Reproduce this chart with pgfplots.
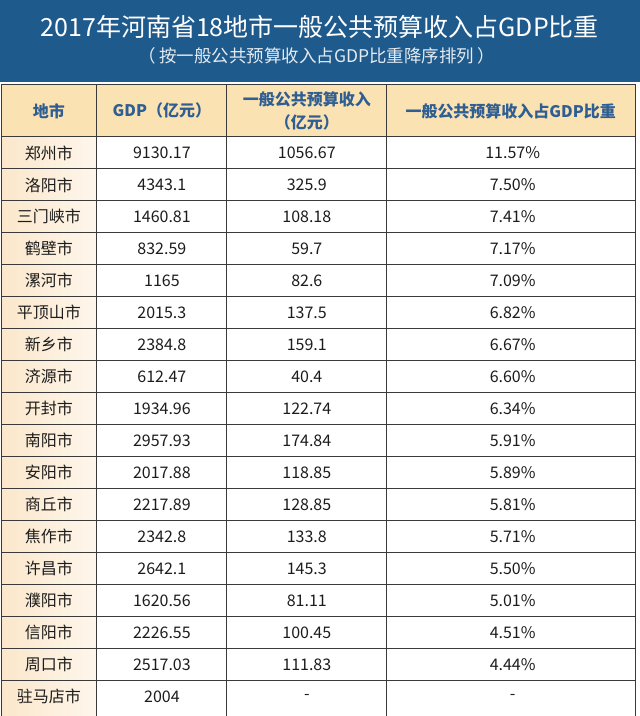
\documentclass[border=0pt]{standalone}
\usepackage{fontspec}
\setmainfont{Noto Sans CJK SC}
\usepackage{pgfplots}
\usepackage{pgfplotstable}
\pgfplotsset{compat=1.18}

\definecolor{band}{HTML}{1F5A8D}
\definecolor{head}{HTML}{FBE2B3}
\definecolor{colL}{HTML}{FBE7CB}
\definecolor{colR}{HTML}{FEF6EC}
\definecolor{headtxt}{HTML}{2E5E92}
\definecolor{ink}{HTML}{1C1C1C}
\definecolor{rule}{HTML}{3A3A3A}

% one row per city, row index gives the vertical slot
\pgfplotstableread{
row city gdp rev share
0 郑州市 9130.17 1056.67 11.57\%
1 洛阳市 4343.1 325.9 7.50\%
2 三门峡市 1460.81 108.18 7.41\%
3 鹤壁市 832.59 59.7 7.17\%
4 漯河市 1165 82.6 7.09\%
5 平顶山市 2015.3 137.5 6.82\%
6 新乡市 2384.8 159.1 6.67\%
7 济源市 612.47 40.4 6.60\%
8 开封市 1934.96 122.74 6.34\%
9 南阳市 2957.93 174.84 5.91\%
10 安阳市 2017.88 118.85 5.89\%
11 商丘市 2217.89 128.85 5.81\%
12 焦作市 2342.8 133.8 5.71\%
13 许昌市 2642.1 145.3 5.50\%
14 濮阳市 1620.56 81.11 5.01\%
15 信阳市 2226.55 100.45 4.51\%
16 周口市 2517.03 111.83 4.44\%
17 驻马店市 2004 - -
}\cities

\pgfplotsset{
  cell/.style={draw=none, mark=none, point meta=explicit symbolic, nodes near coords,
    every node near coord/.append style={anchor=center, inner sep=0pt,
      font=\fontsize{16}{18}\selectfont, text=ink}},
  headcell/.style={cell, every node near coord/.append style={
      font=\fontsize{16}{18}\selectfont\bfseries, text=headtxt}},
}

\begin{document}
\begin{tikzpicture}
\begin{axis}[
    width=640pt, height=716pt, scale only axis,
    xmin=0, xmax=640, ymin=0, ymax=716,
    y dir=reverse,
    hide axis, clip=false,
]
% backgrounds
\addplot[draw=none, fill=white] coordinates {(0,0) (640,0) (640,716) (0,716)};
\addplot[draw=none, fill=band] coordinates {(0,0) (640,0) (640,82) (0,82)};
\addplot[draw=none, fill=head] coordinates {(1,85) (636,85) (636,137) (1,137)};
\addplot[draw=none, left color=colL, right color=colR] coordinates {(1,137) (97,137) (97,716) (1,716)};

% table rules
\addplot[rule, line width=1pt, mark=none, unbounded coords=jump] coordinates {
    (1.5,85) (1.5,716) (nan,nan)
    (97,85) (97,716) (nan,nan)
    (227,85) (227,716) (nan,nan)
    (387,85) (387,716) (nan,nan)
    (636,85) (636,716)
};
\addplot[rule, line width=1pt, mark=none, unbounded coords=jump] coordinates {
    (1,85) (636,85) (nan,nan)
    (1,137) (636,137) (nan,nan)
    (1,169) (636,169) (nan,nan)
    (1,201) (636,201) (nan,nan)
    (1,233) (636,233) (nan,nan)
    (1,265) (636,265) (nan,nan)
    (1,297) (636,297) (nan,nan)
    (1,329) (636,329) (nan,nan)
    (1,361) (636,361) (nan,nan)
    (1,393) (636,393) (nan,nan)
    (1,425) (636,425) (nan,nan)
    (1,457) (636,457) (nan,nan)
    (1,489) (636,489) (nan,nan)
    (1,521) (636,521) (nan,nan)
    (1,553) (636,553) (nan,nan)
    (1,585) (636,585) (nan,nan)
    (1,617) (636,617) (nan,nan)
    (1,649) (636,649) (nan,nan)
    (1,681) (636,681)
};

% title
\addplot[cell, every node near coord/.append style={font=\fontsize{25}{30}\selectfont, text=white}]
    coordinates {(320,27) [2017年河南省18地市一般公共预算收入占GDP比重]};
\addplot[cell, every node near coord/.append style={font=\fontsize{17.5}{20}\selectfont, text=white!88!band}]
    coordinates {(317,56) [（\,按一般公共预算收入占GDP比重降序排列\,）]};

% header
\addplot[headcell] coordinates {(49,111) [地市] (162,111) [GDP（亿元）]
    (307,99) [一般公共预算收入] (307,123) [（亿元）] (511,111) [一般公共预算收入占GDP比重]};

% body
\addplot[cell] table[x expr=49, y expr=153+32*\thisrow{row}, meta=city] {\cities};
\addplot[cell] table[x expr=162, y expr=153+32*\thisrow{row}, meta=gdp] {\cities};
\addplot[cell] table[x expr=307, y expr=153+32*\thisrow{row}, meta=rev] {\cities};
\addplot[cell] table[x expr=513, y expr=153+32*\thisrow{row}, meta=share] {\cities};
\end{axis}
\end{tikzpicture}
\end{document}
